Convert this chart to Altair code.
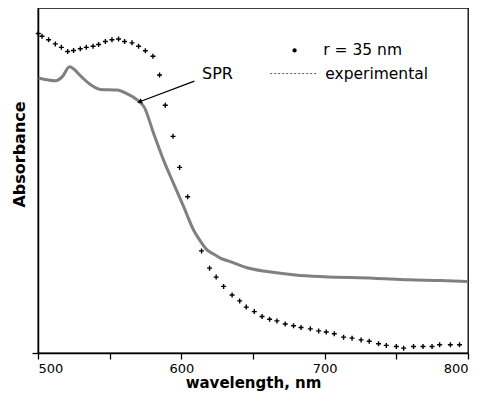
import altair as alt
import pandas as pd

# simulated (r = 35 nm) points, drawn as "+"
sim_wl = [500.2, 502.8, 507.4, 512.1, 516.3, 520.7, 524.8, 529.5, 533.7, 538.4,
          542.3, 547.0, 551.6, 556.2, 560.4, 565.6, 570.2, 574.9, 580.2, 584.8,
          588.8, 594.2, 598.8, 604.4, 614.1, 619.7, 624.3, 629.5, 635.4, 640.7,
          645.3, 650.9, 656.3, 661.6, 666.7, 672.5, 678.3, 683.5, 690.0, 695.8,
          701.1, 706.7, 713.2, 719.1, 725.4, 731.1, 737.6, 743.0, 750.0, 755.1,
          762.0, 768.6, 774.9, 780.2, 787.7, 794.1]
sim_abs = [0.926, 0.918, 0.908, 0.896, 0.886, 0.874, 0.877, 0.882, 0.886, 0.889,
           0.894, 0.903, 0.908, 0.910, 0.903, 0.899, 0.889, 0.876, 0.860, 0.806,
           0.718, 0.628, 0.538, 0.453, 0.296, 0.246, 0.220, 0.193, 0.168, 0.151,
           0.133, 0.120, 0.106, 0.098, 0.093, 0.084, 0.079, 0.074, 0.070, 0.064,
           0.061, 0.056, 0.046, 0.043, 0.038, 0.034, 0.027, 0.022, 0.019, 0.014,
           0.019, 0.019, 0.019, 0.024, 0.024, 0.024]

# experimental curve (gray line)
exp_wl = [500.4, 512.1, 517.0, 522.0, 526.0, 529.5, 536.5, 543.5, 555.1, 562.3,
          569.1, 574.2, 580.7, 587.6, 594.6, 601.6, 608.6, 613.2, 617.9, 622.5,
          627.2, 634.2, 645.8, 659.8, 679.5, 699.3, 734.1, 758.6, 780.7, 799.5]
exp_abs = [0.797, 0.789, 0.801, 0.830, 0.819, 0.804, 0.778, 0.764, 0.762, 0.751,
           0.734, 0.712, 0.636, 0.559, 0.491, 0.424, 0.356, 0.325, 0.299, 0.287,
           0.275, 0.265, 0.247, 0.236, 0.226, 0.221, 0.217, 0.212, 0.210, 0.207]

x_ticks = [500, 550, 600, 650, 700, 750, 800]

# annotations (data coordinates)
arrow = pd.DataFrame({"x": [609.1], "y": [0.788], "x2": [571.4], "y2": [0.729]})
spr = pd.DataFrame({"x": [614.4], "y": [0.810], "t": ["SPR"]})
leg_dot = pd.DataFrame({"x": [679.0], "y": [0.877]})
leg_line = pd.DataFrame({"x": [662.0], "x2": [694.6], "y": [0.810]})
leg_text = pd.DataFrame({"x": [699.0, 700.4], "y": [0.877, 0.810],
                         "t": ["r = 35 nm", "experimental"]})

sim = pd.DataFrame({"wl": sim_wl, "a": sim_abs})
exp = pd.DataFrame({"wl": exp_wl, "a": exp_abs})

FONT = "DejaVu Sans"
xs = alt.Scale(domain=[500, 800], nice=False, zero=False)
ys = alt.Scale(domain=[0, 1], nice=False)

xax = alt.Axis(values=x_ticks, grid=False, tickSize=6, format="d",
               labelExpr="datum.value % 100 == 0 ? datum.label : ''",
               labelFont=FONT, labelFontSize=13, labelColor="black", labelPadding=3,
               title="wavelength, nm", titleFont=FONT, titleFontSize=15,
               titleFontWeight="bold", titleColor="black", titlePadding=0)
yax = alt.Axis(values=[0], grid=False, tickSize=6, labels=False,
               title="Absorbance", titleFont=FONT, titleFontSize=16,
               titleFontWeight="bold", titleColor="black",
               titleX=-19, titleY=146, titleAngle=-90, titleAlign="center",
               titleBaseline="middle")

line = alt.Chart(exp).mark_line(color="#808080", strokeWidth=3,
                                interpolate="monotone").encode(
    x=alt.X("wl:Q", scale=xs, axis=xax),
    y=alt.Y("a:Q", scale=ys, axis=yax),
)
pts = alt.Chart(sim).mark_point(shape="M-1,0L1,0M0,-1L0,1", filled=False,
                                color="black", strokeWidth=1.4, size=25,
                                opacity=1).encode(x="wl:Q", y="a:Q")

arr = alt.Chart(arrow).mark_rule(color="black", strokeWidth=1.3).encode(
    x="x:Q", y="y:Q", x2="x2:Q", y2="y2:Q")
head = alt.Chart(arrow).mark_point(shape="triangle", filled=True, color="black",
                                   size=30, angle=249, opacity=1).encode(
    x="x2:Q", y="y2:Q")
spr_t = alt.Chart(spr).mark_text(font=FONT, fontSize=16, align="left",
                                 baseline="middle", color="black").encode(
    x="x:Q", y="y:Q", text="t:N")
ldot = alt.Chart(leg_dot).mark_point(shape="circle", filled=True, color="black",
                                     size=18, opacity=1).encode(x="x:Q", y="y:Q")
lline = alt.Chart(leg_line).mark_rule(color="#555555", strokeWidth=1,
                                      strokeDash=[2, 2]).encode(
    x="x:Q", x2="x2:Q", y="y:Q")
ltext = alt.Chart(leg_text).mark_text(font=FONT, fontSize=15.5, align="left",
                                      baseline="middle", color="black").encode(
    x="x:Q", y="y:Q", text="t:N")

chart = alt.layer(line, pts, arr, head, spr_t, ldot, lline, ltext).properties(
    width=430, height=345, autosize="none",
    padding={"left": 30, "top": 0, "right": 4, "bottom": 40},
    background="white",
).configure_view(stroke="black", strokeWidth=1.3).configure_axis(
    domainColor="black", tickColor="black", domainWidth=1.5, tickWidth=1.3)

chart.save("out.html", embed_options={"renderer": "svg", "actions": False})
